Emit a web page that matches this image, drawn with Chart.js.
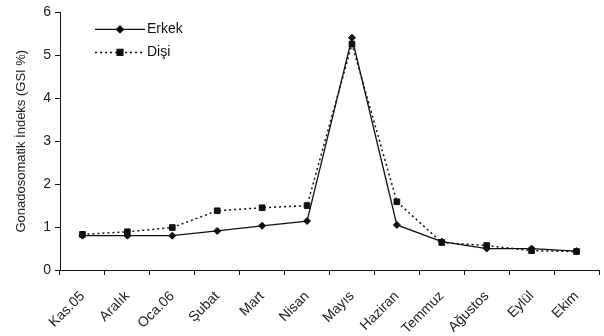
<!DOCTYPE html>
<html>
<head>
<meta charset="utf-8">
<script src="https://cdn.jsdelivr.net/npm/chart.js@4"></script>
<style>
  html, body { margin: 0; padding: 0; background: #fff; }
  #wrap { width: 604px; height: 336px; }
</style>
</head>
<body>
<div id="wrap"><canvas id="gsiChart" width="604" height="336"></canvas></div>
<script>
// GSI by month, males vs females

const MONTHS = ["Kas.05", "Aralık", "Oca.06", "Şubat", "Mart", "Nisan",
                "Mayıs", "Haziran", "Temmuz", "Ağustos", "Eylül", "Ekim"];
const ERKEK = [0.80, 0.80, 0.80, 0.91, 1.03, 1.14, 5.41, 1.05, 0.66, 0.50, 0.50, 0.44];
const DISI  = [0.83, 0.89, 0.99, 1.38, 1.45, 1.50, 5.26, 1.59, 0.64, 0.57, 0.45, 0.43];
const Y_TICKS = [0, 1, 2, 3, 4, 5, 6];

const FONT = "'Liberation Sans', Arial, sans-serif";
const INK = "#111";

// ── legend drawn inside the plot, top-left ─────────────────────────────────
const insideLegend = {
  id: "insideLegend",
  afterDraw(chart) {
    const { ctx, chartArea } = chart;
    const x0 = chartArea.left + 35, x1 = x0 + 50;
    chart.data.datasets.forEach((ds, i) => {
      const y = chartArea.top + 17 + i * 23;
      ctx.save();
      ctx.strokeStyle = ds.borderColor;
      ctx.lineWidth = ds.borderWidth;
      ctx.setLineDash(ds.borderDash || []);
      ctx.beginPath();
      ctx.moveTo(x0, y);
      ctx.lineTo(x1, y);
      ctx.stroke();
      ctx.setLineDash([]);
      Chart.helpers.drawPoint(ctx, {
        pointStyle: ds.pointStyle, radius: ds.pointRadius, borderWidth: 1
      }, (x0 + x1) / 2, y);
      ctx.fillStyle = INK;
      ctx.font = `14px ${FONT}`;
      ctx.textBaseline = "middle";
      ctx.fillText(ds.label, x1 + 2, y);
      ctx.restore();
    });
  },
};

new Chart(document.getElementById("gsiChart").getContext("2d"), {
  type: "line",
  data: {
    labels: MONTHS,
    datasets: [
      {
        label: "Erkek",
        data: ERKEK,
        borderColor: INK,
        backgroundColor: INK,
        borderWidth: 1.3,
        pointStyle: "rectRot",
        pointRadius: 3.5,
        pointBorderWidth: 1,
        tension: 0,
      },
      {
        label: "Dişi",
        data: DISI,
        borderColor: INK,
        backgroundColor: INK,
        borderWidth: 1.5,
        borderDash: [2, 3],
        pointStyle: "rect",
        pointRadius: 4,
        pointBorderWidth: 1,
        tension: 0,
      },
    ],
  },
  options: {
    responsive: false,
    animation: false,
    layout: { padding: { top: 12, right: 5, left: 0, bottom: 0 } },
    plugins: {
      legend: { display: false },
      tooltip: { enabled: false },
    },
    scales: {
      x: {
        offset: true,
        grid: { display: true, drawOnChartArea: false, offset: true, tickLength: 5, color: INK },
        border: { color: INK, width: 1 },
        ticks: {
          autoSkip: false, maxRotation: 45, minRotation: 45,
          color: "#222", font: { family: FONT, size: 14 }, padding: 13,
        },
        afterFit: s => { s.height = 66; },
      },
      y: {
        min: 0,
        max: 6,
        afterBuildTicks: s => { s.ticks = Y_TICKS.map(v => ({ value: v })); },
        grid: { display: true, drawOnChartArea: false, tickLength: 5, color: INK },
        border: { color: INK, width: 1 },
        ticks: { color: "#222", font: { family: FONT, size: 14 }, padding: 4 },
        title: {
          display: true,
          text: "Gonadosomatik İndeks (GSI %)",
          color: "#222",
          font: { family: FONT, size: 13 },
          padding: { top: 14, bottom: 4 },
        },
        afterFit: s => { s.width = 60; },
      },
    },
  },
  plugins: [insideLegend],
});
</script>
</body>
</html>
